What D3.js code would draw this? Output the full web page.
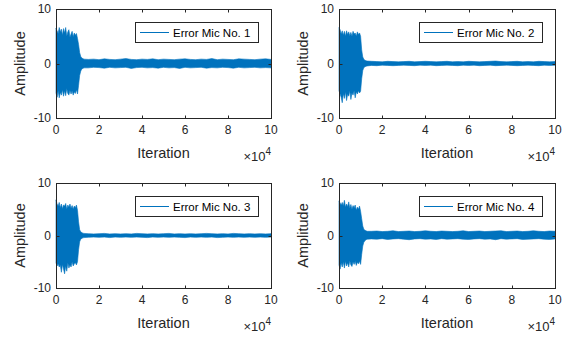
<!DOCTYPE html>
<html>
<head>
<meta charset="utf-8">
<script src="https://cdn.jsdelivr.net/npm/d3@7"></script>
<style>
  body { margin: 0; background: #fff; }
  svg { display: block; font-family: "Liberation Sans", Arial, sans-serif; }
</style>
</head>
<body>
<svg id="chart" width="575" height="337"></svg>
<script>
// iteration grid of the envelope
var iterations = d3.range(0, 13001, 500).concat(d3.range(15000, 100001, 2500));

var xTicks = [0, 20000, 40000, 60000, 80000, 100000];
var xTickLabels = ["0", "2", "4", "6", "8", "10"];
var yTicks = [-10, 0, 10];
var micNames = ["Error Mic No. 1", "Error Mic No. 2", "Error Mic No. 3", "Error Mic No. 4"];

// upper / lower envelope of each error signal
var mic1Upper = [6.5,6.0,5.5,6.6,5.8,6.3,5.2,6.4,5.6,6.6,5.0,5.8,6.2,4.8,5.4,5.9,4.9,5.6,5.2,5.5,4.6,3.5,2.0,1.3,1.0,0.9,0.8,
  0.75,0.8,0.7,0.85,0.75,0.7,0.8,0.9,0.75,0.7,0.8,0.75,0.85,0.7,0.8,0.75,0.7,0.8,0.85,0.75,0.7,0.8,0.75,0.9,0.7,0.8,0.75,0.7,0.85,0.8,0.75,0.7,0.8,0.85,0.75];
var mic1Lower = [-5.4,-6.2,-5.0,-6.3,-5.3,-5.8,-4.8,-6.0,-5.0,-5.9,-4.6,-5.5,-5.8,-4.9,-5.6,-5.0,-5.8,-5.2,-5.5,-4.8,-5.6,-4.0,-2.2,-1.4,-1.0,-0.9,-0.8,
  -0.8,-0.7,-0.75,-0.85,-0.7,-0.8,-0.75,-0.7,-0.9,-0.75,-0.7,-0.8,-0.75,-0.85,-0.7,-0.8,-0.75,-0.9,-0.7,-0.8,-0.75,-0.7,-0.85,-0.75,-0.8,-0.7,-0.75,-0.85,-0.7,-0.8,-0.75,-0.7,-0.8,-0.75,-0.8];

var mic2Upper = [6.6,6.2,5.4,6.0,5.2,5.9,5.0,6.0,5.3,5.8,5.1,5.7,5.0,5.9,5.4,5.6,5.0,5.8,5.3,5.6,5.0,2.5,1.2,0.8,0.6,0.5,0.45,
  0.4,0.35,0.3,0.4,0.35,0.3,0.35,0.4,0.3,0.35,0.4,0.35,0.3,0.35,0.4,0.3,0.35,0.3,0.4,0.35,0.3,0.35,0.4,0.45,0.35,0.3,0.35,0.4,0.3,0.35,0.3,0.4,0.35,0.3,0.35];
var mic2Lower = [-5.0,-5.6,-6.2,-7.2,-5.5,-6.4,-5.2,-6.8,-5.6,-6.0,-5.0,-6.6,-5.4,-5.8,-5.0,-6.3,-5.2,-5.6,-5.0,-5.4,-5.1,-2.8,-1.3,-0.8,-0.6,-0.5,-0.45,
  -0.35,-0.4,-0.3,-0.35,-0.4,-0.35,-0.3,-0.35,-0.4,-0.3,-0.35,-0.3,-0.4,-0.35,-0.3,-0.35,-0.4,-0.3,-0.35,-0.3,-0.4,-0.35,-0.3,-0.4,-0.35,-0.3,-0.35,-0.4,-0.35,-0.3,-0.35,-0.4,-0.3,-0.35,-0.3];

var mic3Upper = [6.8,6.0,5.6,6.3,5.3,6.0,5.1,5.8,5.6,6.1,5.0,5.8,5.4,6.0,5.2,5.7,5.0,5.6,5.3,5.8,4.8,2.6,1.1,0.7,0.55,0.45,0.4,
  0.35,0.3,0.35,0.4,0.3,0.35,0.3,0.35,0.3,0.4,0.35,0.3,0.35,0.3,0.35,0.4,0.3,0.35,0.3,0.35,0.3,0.35,0.4,0.35,0.3,0.35,0.3,0.4,0.35,0.3,0.35,0.3,0.35,0.3,0.35];
var mic3Lower = [-5.2,-5.8,-5.4,-6.0,-5.6,-7.0,-5.5,-6.4,-7.3,-5.8,-6.8,-5.2,-6.2,-5.6,-6.0,-5.0,-5.8,-5.4,-5.2,-5.6,-5.0,-2.7,-1.2,-0.7,-0.55,-0.45,-0.4,
  -0.35,-0.3,-0.35,-0.3,-0.4,-0.3,-0.35,-0.3,-0.35,-0.3,-0.35,-0.4,-0.3,-0.35,-0.3,-0.35,-0.3,-0.35,-0.4,-0.3,-0.35,-0.3,-0.35,-0.3,-0.4,-0.35,-0.3,-0.35,-0.3,-0.35,-0.3,-0.35,-0.3,-0.35,-0.3];

var mic4Upper = [6.6,6.2,5.8,6.3,5.6,6.7,5.4,6.0,5.5,6.4,5.2,5.9,5.0,5.7,5.3,5.8,4.8,5.4,5.0,5.6,4.6,3.2,1.8,1.2,1.0,0.9,0.8,
  0.8,0.85,0.75,0.8,0.9,0.75,0.8,0.85,0.75,0.8,0.9,0.8,0.75,0.85,0.8,0.75,0.8,0.9,0.75,0.8,0.85,0.75,0.8,0.85,0.9,0.75,0.8,0.85,0.75,0.8,0.9,0.8,0.75,0.85,0.8];
var mic4Lower = [-5.6,-6.4,-5.2,-6.0,-5.0,-6.2,-4.9,-5.8,-5.2,-6.0,-4.8,-5.6,-5.9,-5.0,-5.5,-4.9,-5.7,-5.1,-5.4,-4.9,-5.5,-3.6,-2.0,-1.3,-1.0,-0.8,-0.7,
  -0.65,-0.7,-0.6,-0.75,-0.65,-0.6,-0.7,-0.8,-0.65,-0.6,-0.7,-0.65,-0.75,-0.6,-0.7,-0.65,-0.6,-0.7,-0.75,-0.65,-0.6,-0.7,-0.65,-0.8,-0.6,-0.7,-0.65,-0.6,-0.75,-0.7,-0.65,-0.6,-0.7,-0.75,-0.65];

var uppers = [mic1Upper, mic2Upper, mic3Upper, mic4Upper];
var lowers = [mic1Lower, mic2Lower, mic3Lower, mic4Lower];

var panels = [
  { left: 56,  right: 271, top: 9,   bottom: 118 },
  { left: 339, right: 555, top: 9,   bottom: 118 },
  { left: 56,  right: 271, top: 183, bottom: 288 },
  { left: 339, right: 555, top: 183, bottom: 288 }
];

var axisColor = "#262626";
var lineColor = "#0072BD";
var svg = d3.select("#chart");

panels.forEach(function(p, i) {
  var x = d3.scaleLinear().domain([0, 100000]).range([p.left, p.right]);
  var y = d3.scaleLinear().domain([-10, 10]).range([p.bottom, p.top]);
  var g = svg.append("g");

  var rows = iterations.map(function(it, k) {
    return { it: it, hi: uppers[i][k], lo: lowers[i][k] };
  });

  g.append("path")
    .datum(rows)
    .attr("fill", lineColor)
    .attr("stroke", lineColor)
    .attr("stroke-width", 0.6)
    .attr("d", d3.area()
      .x(function(d) { return x(d.it); })
      .y0(function(d) { return y(d.lo); })
      .y1(function(d) { return y(d.hi); }));

  // box
  g.append("rect")
    .attr("x", p.left + 0.5).attr("y", p.top + 0.5)
    .attr("width", p.right - p.left).attr("height", p.bottom - p.top)
    .attr("fill", "none").attr("stroke", axisColor).attr("stroke-width", 1);

  var tl = 2.5;
  // x ticks (bottom and top, inward)
  xTicks.forEach(function(t, k) {
    var px = Math.round(x(t)) + 0.5;
    g.append("line").attr("x1", px).attr("x2", px)
      .attr("y1", p.bottom).attr("y2", p.bottom - tl).attr("stroke", axisColor);
    g.append("line").attr("x1", px).attr("x2", px)
      .attr("y1", p.top + 1).attr("y2", p.top + 1 + tl).attr("stroke", axisColor);
    g.append("text")
      .attr("x", x(t)).attr("y", p.bottom + 16)
      .attr("text-anchor", "middle")
      .attr("font-size", 12).attr("fill", axisColor)
      .text(xTickLabels[k]);
  });

  yTicks.forEach(function(t) {
    var py = Math.round(y(t)) + 0.5;
    g.append("line").attr("x1", p.left + 1).attr("x2", p.left + 1 + tl)
      .attr("y1", py).attr("y2", py).attr("stroke", axisColor);
    g.append("line").attr("x1", p.right).attr("x2", p.right - tl)
      .attr("y1", py).attr("y2", py).attr("stroke", axisColor);
    g.append("text")
      .attr("x", p.left - 5).attr("y", y(t) + 4)
      .attr("text-anchor", "end")
      .attr("font-size", 12).attr("fill", axisColor)
      .text(t);
  });

  // axis labels
  g.append("text")
    .attr("x", (p.left + p.right) / 2).attr("y", p.bottom + 40)
    .attr("text-anchor", "middle")
    .attr("font-size", 14.5).attr("fill", axisColor)
    .text("Iteration");

  g.append("text")
    .attr("transform", "translate(" + (p.left - 31) + "," + ((p.top + p.bottom) / 2) + ") rotate(-90)")
    .attr("text-anchor", "middle")
    .attr("font-size", 14.5).attr("fill", axisColor)
    .text("Amplitude");

  // exponent label
  var ex = g.append("text")
    .attr("x", p.right).attr("y", p.bottom + 43)
    .attr("text-anchor", "end")
    .attr("font-size", 13).attr("fill", axisColor);
  ex.append("tspan").text("\u00d710");
  ex.append("tspan").attr("dy", -6).attr("font-size", 10).text("4");

  // legend
  var lx = p.right - 136, ly = p.top + 13;
  g.append("rect")
    .attr("x", lx + 0.5).attr("y", ly + 0.5)
    .attr("width", 123).attr("height", 20)
    .attr("fill", "#fff").attr("stroke", axisColor).attr("stroke-width", 1);
  g.append("line")
    .attr("x1", lx + 5).attr("x2", lx + 34)
    .attr("y1", ly + 10.5).attr("y2", ly + 10.5)
    .attr("stroke", lineColor).attr("stroke-width", 1);
  g.append("text")
    .attr("x", lx + 38).attr("y", ly + 14.5)
    .attr("font-size", 11.5).attr("fill", "#000")
    .text(micNames[i]);
});
</script>
</body>
</html>
